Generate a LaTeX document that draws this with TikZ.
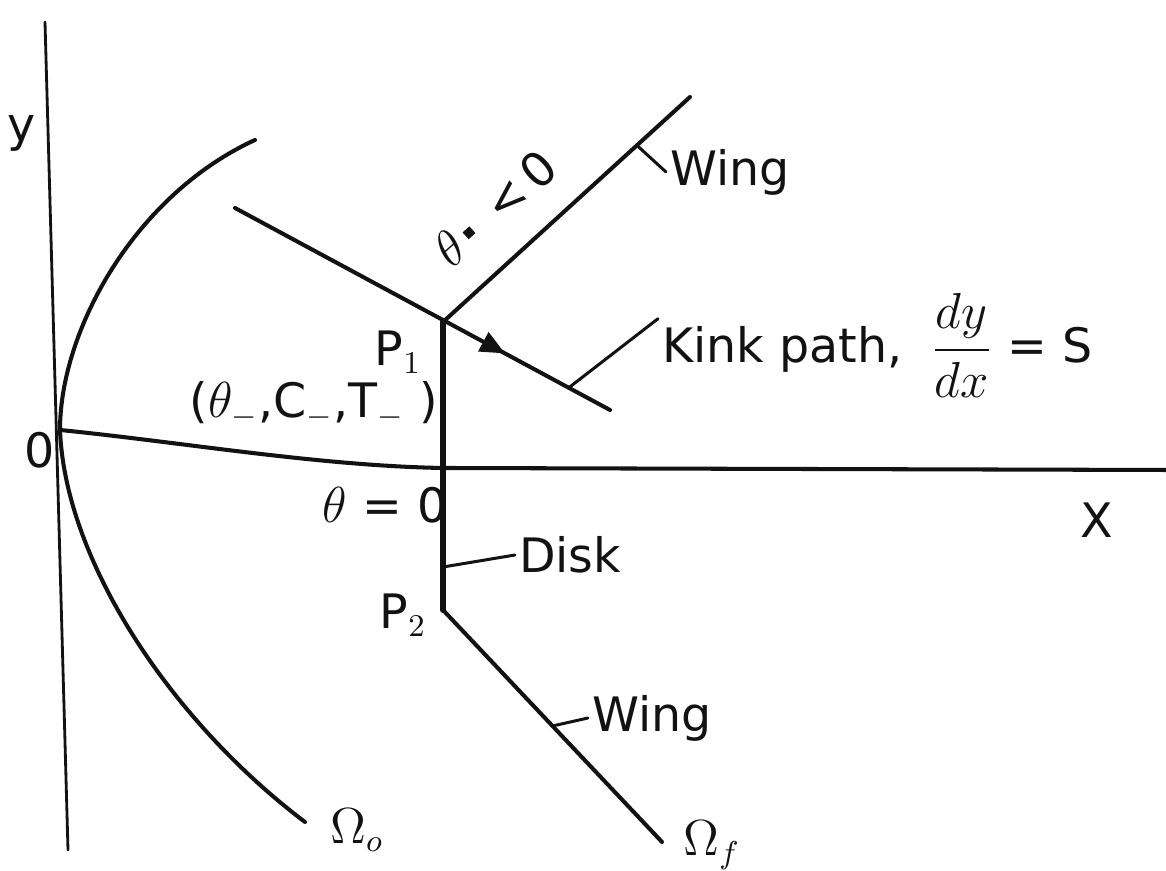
\documentclass[tikz,border=0pt]{standalone}
\usepackage{amsmath,amssymb}
\usepackage{fontspec}
\setmainfont{DejaVu Sans}
\usepackage{xcolor}
\usepackage{tikz}
\usetikzlibrary{calc,arrows.meta,positioning,decorations.markings}
\definecolor{inkBlack}{RGB}{18,18,18}

\begin{document}
\begin{tikzpicture}[x=0.01cm,y=-0.01cm,line cap=round,line join=round,
  curve/.style={inkBlack,line width=1.15pt},
  axisline/.style={inkBlack,line width=0.8pt},
  disk/.style={inkBlack,line width=1.7pt},
  leader/.style={inkBlack,line width=0.85pt},
  lbl/.style={text=inkBlack,font=\fontsize{13.5}{15}\selectfont,inner sep=1pt}]
\useasboundingbox (0,0) rectangle (1166,871);
% main points
\coordinate (O) at (60,430);
\coordinate (P1) at (443,322);
\coordinate (P2) at (443,610);
\coordinate (D0) at (443,468);
\coordinate (yTop) at (45,22);
\coordinate (yBot) at (68,850);
\coordinate (xEnd) at (1166,470);
\coordinate (wingTop) at (690,97);
\coordinate (wingBot) at (662,842);
\coordinate (kinkStart) at (235,208);
\coordinate (kinkEnd) at (610,410);
\coordinate (omTop) at (255,140);
\coordinate (omBot) at (305,822);
% axes
\draw[axisline] (yTop) -- (yBot);
\draw[curve] (O) .. controls (180,442) and (320,466) .. (D0) -- (xEnd);
% initial surface
\draw[curve] (omTop) .. controls (135,195) and (60,330) .. (O)
  .. controls (65,560) and (170,720) .. (omBot);
% disk and wings
\draw[disk] (P1) -- (P2);
\draw[curve] (P1) -- (wingTop);
\draw[curve] (P2) -- (wingBot);
% kink path
\draw[curve,decoration={markings,mark=at position 0.72 with
  {\arrow{Triangle[length=7pt,width=6pt]}}},postaction={decorate}]
  (kinkStart) -- (kinkEnd);
% labels
\node[lbl] (ylbl) at (22,133) {y};
\node[lbl] (olbl) at (40,450) {0};
\node[lbl] (xlbl) at (1097,520) {X};
\node[lbl] (p1lbl) at (398,352) {P$_1$};
\node[lbl] (statelbl) at (314,405) {($\theta_-$,C$_-$,T$_-$ )};
\node[lbl] (zerolbl) at (385,505) {$\theta$ = 0};
\node[lbl] (p2lbl) at (403,615) {P$_2$};
\node[lbl,rotate=42] (neglbl) at (495,208) {$\theta$\,\rule[0.45ex]{2.6pt}{2.6pt}\;\;<\,0};
\node[lbl,anchor=west] (wingUp) at (666,172) {Wing};
\node[lbl,anchor=west] (kinkLbl) at (658,345) {Kink path,\; $\dfrac{dy}{dx}$ = S};
\node[lbl,anchor=west] (diskLbl) at (515,555) {Disk};
\node[lbl,anchor=west] (wingLow) at (588,718) {Wing};
\node[lbl] (om0) at (357,830) {$\Omega_o$};
\node[lbl] (omf) at (712,845) {$\Omega_f$};
% leaders
\coordinate (wingUpFoot) at ($(P1)!0.785!(wingTop)$);
\coordinate (kinkFoot) at ($(kinkStart)!0.89!(kinkEnd)$);
\coordinate (diskFoot) at (443,567);
\coordinate (wingLowFoot) at ($(P2)!0.5!(wingBot)$);
\draw[leader] (wingUpFoot) -- (wingUp.west);
\draw[leader] (kinkFoot) -- ([yshift=-0.3cm]kinkLbl.north west);
\draw[leader] (diskFoot) -- (diskLbl.west);
\draw[leader] (wingLowFoot) -- (wingLow.west);
\end{tikzpicture}
\end{document}
